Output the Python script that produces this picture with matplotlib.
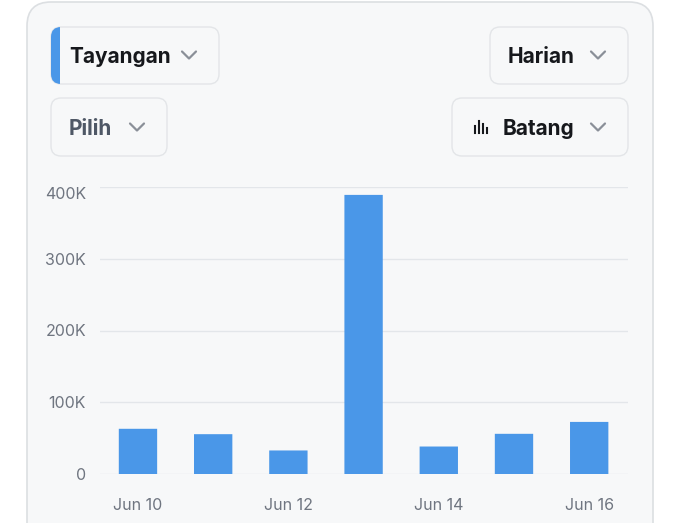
import matplotlib.pyplot as plt
from matplotlib.patches import FancyBboxPatch, Rectangle

days = ['Jun 10', 'Jun 11', 'Jun 12', 'Jun 13', 'Jun 14', 'Jun 15', 'Jun 16']
views = [63000, 55500, 32800, 389000, 38300, 56000, 72600]
yticks = [0, 100000, 200000, 300000, 400000]
ytick_labels = ['0', '100K', '200K', '300K', '400K']

W, H = 680, 523
BLUE = '#4a97e8'
plt.rcParams['font.family'] = ['Inter', 'DejaVu Sans']

fig = plt.figure(figsize=(W / 100, H / 100), dpi=100)
fig.patch.set_facecolor('white')


def px(x, y):
    # pixel coords (top-left origin) -> figure fraction
    return x / W, 1 - y / H


def box(x0, y0, x1, y1, r=10, fc='#f7f8f9', ec='#e3e5e8', lw=1, z=1):
    fx, fy = px(x0, y1)
    p = FancyBboxPatch((fx, fy), (x1 - x0) / W, (y1 - y0) / H,
                       boxstyle='round,pad=0,rounding_size=%f' % (r / W),
                       mutation_aspect=W / H, transform=fig.transFigure,
                       fc=fc, ec=ec, lw=lw, zorder=z)
    fig.add_artist(p)
    return p


def chevron(cx, cy, color='#8a8f98'):
    xs = [cx - 7, cx, cx + 7]
    ys = [cy - 3.5, cy + 3.5, cy - 3.5]
    fig.add_artist(plt.Line2D([x / W for x in xs], [1 - y / H for y in ys],
                              transform=fig.transFigure, color=color, lw=1.6,
                              solid_capstyle='round', solid_joinstyle='round', zorder=5))


def label(x, y, s, color='#16181c', size=15):
    fx, fy = px(x, y + 2)
    fig.text(fx, fy, s, ha='left', va='center', fontsize=size,
             fontweight='bold', color=color, zorder=5)


# card
box(27, 2, 653, 560, r=24, fc='#f7f8f9', ec='#dcdfe2', lw=1.2, z=0)

# dropdowns
tay = box(51, 27, 219, 84)
strip = Rectangle(px(51, 84), 9 / W, 57 / H, transform=fig.transFigure,
                  fc=BLUE, ec='none', zorder=2)
fig.add_artist(strip)
strip.set_clip_path(tay)
label(69, 55, 'Tayangan')
chevron(189, 55)

box(490, 27, 628, 84)
label(508, 55, 'Harian')
chevron(598, 55)

box(51, 98, 167, 156)
label(69, 127, 'Pilih', color='#4f5866')
chevron(137, 127)

box(452, 98, 628, 156)
label(503, 127, 'Batang')
chevron(598, 127)
for bx, bh in [(475, 7), (479, 12), (483, 9), (487, 5)]:
    fig.add_artist(plt.Line2D([bx / W, bx / W], [1 - 133 / H, 1 - (133 - bh) / H],
                              transform=fig.transFigure, color='#16181c', lw=1.5, zorder=5))

# chart
ax = fig.add_axes([100 / W, 1 - 474 / H, 528 / W, (474 - 187) / H])
ax.set_facecolor('none')
x = list(range(len(days)))
bars = ax.bar(x, views, width=0.51, color='none', zorder=3)
ax.set_xlim(-0.505, 6.516)
ax.set_ylim(0, 400000)

# rounded versions of the bars
aspect = (400000 / 287) * (7.021 / 528)
for b in bars:
    ax.add_patch(FancyBboxPatch((b.get_x(), 0), b.get_width(), b.get_height(),
                                boxstyle='round,pad=0,rounding_size=0.05',
                                mutation_aspect=aspect, fc=BLUE, ec='none', zorder=3))

ax.set_yticks(yticks)
ax.set_yticklabels(ytick_labels)
ax.set_xticks(x[::2])
ax.set_xticklabels(days[::2])
ax.grid(axis='y', color='#e3e6ea', lw=1, zorder=0)
for s in ax.spines.values():
    s.set_visible(False)
ax.tick_params(length=0, labelsize=11.5, colors='#6f7580', pad=10)
ax.tick_params(axis='x', pad=17)
ax.get_yticklabels()[-1].set_va('top')

fig.savefig('out.png', dpi=100)
